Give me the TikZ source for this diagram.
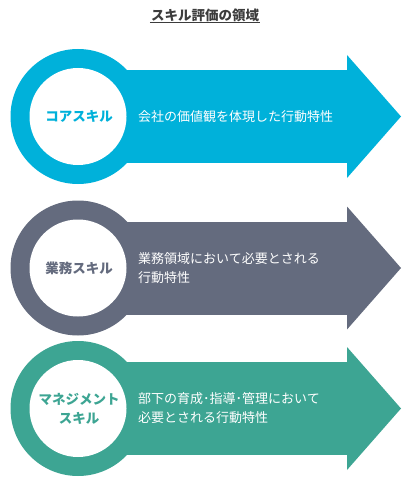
\documentclass[tikz,border=0pt]{standalone}
\usepackage{fontspec}
\setmainfont{Noto Sans CJK JP}
\usepackage{tikz}
\usetikzlibrary{positioning}
\definecolor{skA}{HTML}{00B1DA}
\definecolor{skB}{HTML}{646B7E}
\definecolor{skC}{HTML}{3DA593}
\definecolor{ttlgray}{HTML}{3C3C3C}

\begin{document}
\begin{tikzpicture}[x=1pt,y=-1pt]
  \newcommand{\cx}{78};
  \newcommand{\hx}{347};
  \newcommand{\tx}{401};
  \useasboundingbox (0,0) rectangle (412,500);
  \node[text=ttlgray,font=\fontsize{13.5pt}{16pt}\selectfont\bfseries,inner sep=1pt] (ttl) at (205,15) {スキル評価の領域};
  \draw[ttlgray,line width=0.8pt] (ttl.south west) -- (ttl.south east);
  \tikzstyle{skname}=[font=\fontsize{13.5pt}{19pt}\selectfont\bfseries,align=center,inner sep=0pt];
  \tikzstyle{sktext}=[text=white,font=\fontsize{13pt}{19pt}\selectfont,align=left,anchor=west,inner sep=0pt];
  \foreach \n/\col/\y/\lab/\txt in {A/skA/116.5/{コアスキル}/{会社の価値観を体現した行動特性},
      B/skB/268/{業務スキル}/{業務領域において必要とされる\\行動特性},
      C/skC/408.5/{マネジメント\\スキル}/{部下の育成･指導･管理において\\必要とされる行動特性}}{
    \fill[\col] (\cx,\y-46.5) rectangle (\hx,\y+46.5);
    \fill[\col] (\hx,\y-61.5) -- (\tx,\y) -- (\hx,\y+61.5) -- cycle;
    \fill[\col] (\cx,\y) circle[radius=67.5pt];
    \fill[white] (\cx,\y) circle[radius=48.5pt];
    \node[skname,text=\col] (c\n) at (\cx+1,\y) {\lab};
    \node[sktext] (t\n) at (138,\y) {\txt};
  }
\end{tikzpicture}
\end{document}
